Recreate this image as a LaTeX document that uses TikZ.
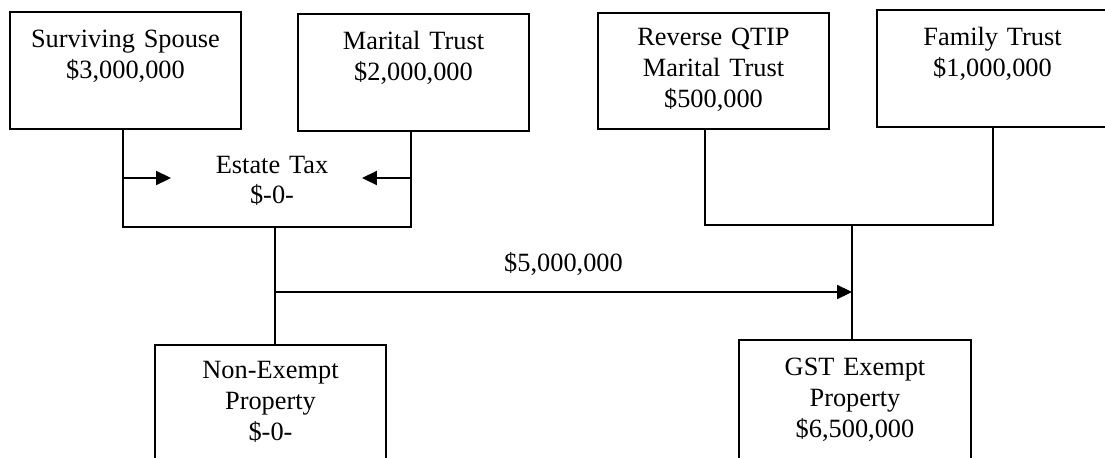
\documentclass[tikz,border=0pt]{standalone}
\usepackage{fontspec}
\setmainfont{Liberation Serif}
\usetikzlibrary{arrows.meta}

\tikzset{
  box/.style={draw, line width=1pt, inner sep=0pt, text width=4.62cm,
    align=center, anchor=north},
  link/.style={line width=1pt},
  arr/.style={line width=1pt, -{Triangle[length=8.5pt,width=8pt]}}
}

\begin{document}
\begin{tikzpicture}[x=0.02cm, y=-0.02cm, font=\fontsize{15pt}{17.5pt}\selectfont]
  \path[use as bounding box, clip] (0,0) rectangle (1105,457);

  % trusts on top
  \node[box, text height=0.72cm, text depth=1.62cm] (spouse)
    at (125.5,11) {Surviving Spouse\\\$3,000,000};
  \node[box, text height=0.72cm, text depth=1.62cm] (marital)
    at (413.5,13) {Marital Trust\\\$2,000,000};
  \node[box, text height=0.66cm, text depth=1.66cm] (qtip)
    at (713.5,12) {Reverse QTIP\\Marital Trust\\\$500,000};
  \node[box, text height=0.72cm, text depth=1.62cm] (family)
    at (992.5,9) {Family Trust\\\$1,000,000};

  % property below
  \node[box, text height=0.68cm, text depth=2.2cm] (nonexempt)
    at (270.5,344) {Non-Exempt\\Property\\\$-0-};
  \node[box, text width=4.64cm, text height=0.72cm, text depth=2.2cm] (gst)
    at (855,339) {GST Exempt\\Property\\\$6,500,000};

  \node[anchor=base, inner sep=0pt, text width=3cm, align=center] (etax)
    at (272,173) {Estate Tax\\\$-0-};

  \coordinate (etl) at (123,227);
  \coordinate (etr) at (411,227);
  \coordinate (split) at (275,227);
  \coordinate (inl) at (123,178);
  \coordinate (tipl) at (171,178);
  \coordinate (inr) at (411,178);
  \coordinate (tipr) at (362,178);
  \coordinate (mrl) at (705,225);
  \coordinate (mrr) at (993,225);
  \coordinate (merge) at (852,225);
  \coordinate (flow) at (275,292);

  % estate tax
  \draw[link] (spouse.south -| etl) -- (etl) -- (etr) -- (marital.south -| etr);
  \draw[arr] (inl) -- (tipl);
  \draw[arr] (inr) -- (tipr);
  \draw[link] (split) -- (nonexempt.north -| split);

  % exempt side
  \draw[link] (qtip.south -| mrl) -- (mrl) -- (mrr) -- (family.south -| mrr);
  \draw[link] (merge) -- (gst.north -| merge);
  \draw[arr] (flow) -- node[midway, anchor=base, yshift=11.4pt] {\$5,000,000}
    (flow -| merge);
\end{tikzpicture}
\end{document}
